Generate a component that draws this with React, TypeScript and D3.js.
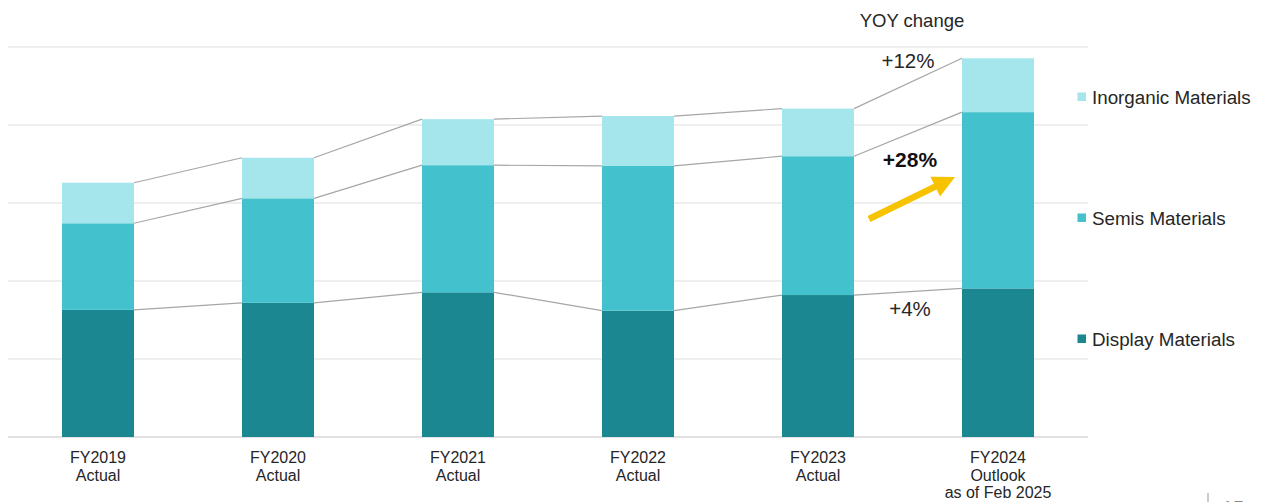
import React from "react";
import * as d3 from "d3";

const categories = ["FY2019", "FY2020", "FY2021", "FY2022", "FY2023", "FY2024"];
const categoryLines: string[][] = [
  ["FY2019", "Actual"],
  ["FY2020", "Actual"],
  ["FY2021", "Actual"],
  ["FY2022", "Actual"],
  ["FY2023", "Actual"],
  ["FY2024", "Outlook", "as of Feb 2025"],
];
const display = [163, 172, 185.5, 162, 182, 190.5];
const semis = [111, 134, 163, 185.5, 178, 226];
const inorganic = [52, 52, 59, 64, 61, 69];
const seriesNames = ["Display Materials", "Semis Materials", "Inorganic Materials"];
const seriesColors = ["#1b8891", "#43c1cc", "#a4e6ec"];
const gridTicks = [0, 100, 200, 300, 400, 500];
const yoyLabels = ["+4%", "+28%", "+12%"];

export default function App() {
  const W = 1267;
  const H = 502;
  const x = d3
    .scaleBand<string>()
    .domain(categories)
    .range([8, 1088])
    .paddingInner(0.6)
    .paddingOuter(0.3);
  const y = d3.scaleLinear().domain([0, 500]).range([437, 47]);
  const bw = x.bandwidth();

  const rows = categories.map((c, i) => ({
    cat: c,
    display: display[i],
    semis: semis[i],
    inorganic: inorganic[i],
  }));
  const stack = d3.stack<any>().keys(["display", "semis", "inorganic"]);
  const layers = stack(rows);

  const font = "'Liberation Sans', Arial, sans-serif";

  const lastX = (x(categories[5]) as number);
  const prevX = (x(categories[4]) as number) + bw;
  const midX = (lastX + prevX) / 2;

  // arrow geometry
  const ax0 = 869, ay0 = 219, ax1 = 955, ay1 = 177;
  const ang = Math.atan2(ay1 - ay0, ax1 - ax0);
  const headLen = 22, headW = 11, shaftW = 3.2;
  const len = Math.hypot(ax1 - ax0, ay1 - ay0);
  const ux = Math.cos(ang), uy = Math.sin(ang);
  const px = -uy, py = ux;
  const bx = ax0 + ux * (len - headLen), by = ay0 + uy * (len - headLen);
  const arrowPts = [
    [ax0 + px * shaftW, ay0 + py * shaftW],
    [bx + px * shaftW, by + py * shaftW],
    [bx + px * headW, by + py * headW],
    [ax1, ay1],
    [bx - px * headW, by - py * headW],
    [bx - px * shaftW, by - py * shaftW],
    [ax0 - px * shaftW, ay0 - py * shaftW],
  ]
    .map((p) => p.join(","))
    .join(" ");

  const legendY = [339, 218, 97];

  return (
    <svg
      width={W}
      height={H}
      style={{ position: "absolute", left: 0, top: 0, display: "block", background: "#fff" }}
      fontFamily={font}
    >
      {gridTicks.map((t) => (
        <line
          key={t}
          x1={8}
          x2={1088}
          y1={y(t)}
          y2={y(t)}
          stroke={t === 0 ? "#d9d9d9" : "#e8e8e8"}
          strokeWidth={1.3}
        />
      ))}
      {layers.map((layer, li) => (
        <g key={li} fill={seriesColors[li]}>
          {layer.map((d, i) => (
            <rect
              key={i}
              x={x(categories[i])}
              y={y(d[1])}
              width={bw}
              height={y(d[0]) - y(d[1])}
            />
          ))}
        </g>
      ))}
      {layers.map((layer, li) => (
        <g key={"c" + li} stroke="#a6a6a6" strokeWidth={1.2} fill="none">
          {layer.slice(0, -1).map((d, i) => (
            <line
              key={i}
              x1={(x(categories[i]) as number) + bw}
              y1={y(d[1])}
              x2={x(categories[i + 1])}
              y2={y(layer[i + 1][1])}
            />
          ))}
        </g>
      ))}
      {categoryLines.map((lines, i) => (
        <text
          key={i}
          x={(x(categories[i]) as number) + bw / 2}
          y={463}
          textAnchor="middle"
          fontSize={16}
          fill="#262626"
        >
          {lines.map((l, j) => (
            <tspan key={j} x={(x(categories[i]) as number) + bw / 2} dy={j === 0 ? 0 : 17.5}>
              {l}
            </tspan>
          ))}
        </text>
      ))}
      {seriesNames.map((n, i) => (
        <g key={n}>
          <rect x={1077.5} y={legendY[i] - 4.5} width={8.5} height={8.5} fill={seriesColors[i]} />
          <text x={1092} y={legendY[i] + 6.5} fontSize={18.8} fill="#262626">
            {n}
          </text>
        </g>
      ))}
      <text x={912} y={27} textAnchor="middle" fontSize={18.5} fill="#262626">
        YOY change
      </text>
      <text x={908} y={68} textAnchor="middle" fontSize={20.5} fill="#262626">
        {yoyLabels[2]}
      </text>
      <text x={910} y={167} textAnchor="middle" fontSize={21} fontWeight="bold" fill="#111">
        {yoyLabels[1]}
      </text>
      <text x={910} y={316} textAnchor="middle" fontSize={20.5} fill="#262626">
        {yoyLabels[0]}
      </text>
      <polygon points={arrowPts} fill="#f7c300" />
      <line x1={1208} x2={1208} y1={493} y2={502} stroke="#999" strokeWidth={1} />
      <text x={1222} y={515} fontSize={20} fill="#888">
        15
      </text>
    </svg>
  );
}
